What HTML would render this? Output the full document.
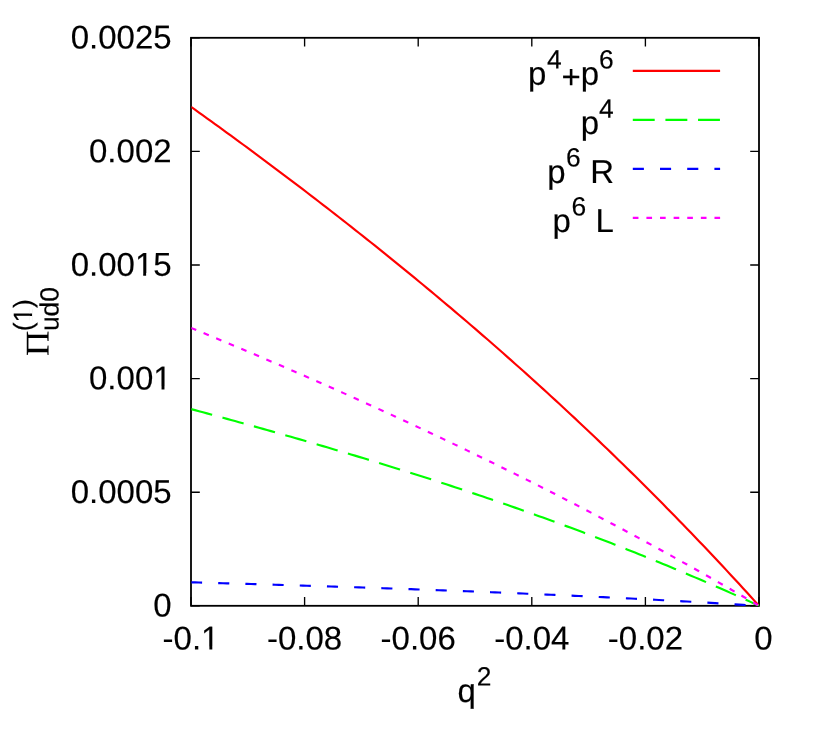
<!DOCTYPE html>
<html><head><meta charset="utf-8"><title>plot</title>
<style>html,body{margin:0;padding:0;background:#fff;}svg{display:block;}#wrap{width:822px;height:743px;will-change:transform;}text{font-family:"Liberation Sans",sans-serif;fill:#000;text-rendering:geometricPrecision;stroke:#000;stroke-width:0.15px;}.sym{font-family:"Liberation Serif",serif;}</style></head><body><div id="wrap">
<svg width="822" height="743" viewBox="0 0 822 743">
<g stroke="#000" stroke-width="1.35" fill="none" stroke-linecap="butt">
<path d="M191.0,605.80 h8.8 M759.0,605.80 h-8.8"/>
<path d="M191.0,492.20 h8.8 M759.0,492.20 h-8.8"/>
<path d="M191.0,378.60 h8.8 M759.0,378.60 h-8.8"/>
<path d="M191.0,265.00 h8.8 M759.0,265.00 h-8.8"/>
<path d="M191.0,151.40 h8.8 M759.0,151.40 h-8.8"/>
<path d="M191.0,37.80 h8.8 M759.0,37.80 h-8.8"/>
<path d="M191.00,605.8 v-8.8 M191.00,37.8 v8.8"/>
<path d="M304.60,605.8 v-8.8 M304.60,37.8 v8.8"/>
<path d="M418.20,605.8 v-8.8 M418.20,37.8 v8.8"/>
<path d="M531.80,605.8 v-8.8 M531.80,37.8 v8.8"/>
<path d="M645.40,605.8 v-8.8 M645.40,37.8 v8.8"/>
<path d="M759.00,605.8 v-8.8 M759.00,37.8 v8.8"/>
</g>
<rect x="191.0" y="37.8" width="568.0" height="568.0" fill="none" stroke="#000" stroke-width="1.8"/>
<g transform="matrix(1 0.0005 0 1 171.60 616.60)"><text font-size="33.0" text-anchor="end">0</text></g>
<g transform="matrix(1 0.0005 0 1 171.60 503.00)"><text font-size="33.0" text-anchor="end">0.0005</text></g>
<g transform="matrix(1 0.0005 0 1 171.60 389.40)"><text font-size="33.0" text-anchor="end">0.001</text><rect x="-16.74" y="-2.72" width="6.69" height="3.32" fill="#fff"/><rect x="-7.14" y="-2.72" width="6.51" height="3.32" fill="#fff"/></g>
<g transform="matrix(1 0.0005 0 1 171.60 275.80)"><text font-size="33.0" text-anchor="end">0.0015</text><rect x="-35.09" y="-2.72" width="6.69" height="3.32" fill="#fff"/><rect x="-25.49" y="-2.72" width="6.51" height="3.32" fill="#fff"/></g>
<g transform="matrix(1 0.0005 0 1 171.60 162.20)"><text font-size="33.0" text-anchor="end">0.002</text></g>
<g transform="matrix(1 0.0005 0 1 171.60 48.60)"><text font-size="33.0" text-anchor="end">0.0025</text></g>
<g transform="matrix(1 0.0005 0 1 191.00 649.40)"><text font-size="33.0" text-anchor="middle">-0.1</text><rect x="11.69" y="-2.72" width="6.69" height="3.32" fill="#fff"/><rect x="21.29" y="-2.72" width="6.51" height="3.32" fill="#fff"/></g>
<g transform="matrix(1 0.0005 0 1 304.60 649.40)"><text font-size="33.0" text-anchor="middle">-0.08</text></g>
<g transform="matrix(1 0.0005 0 1 418.20 649.40)"><text font-size="33.0" text-anchor="middle">-0.06</text></g>
<g transform="matrix(1 0.0005 0 1 531.80 649.40)"><text font-size="33.0" text-anchor="middle">-0.04</text></g>
<g transform="matrix(1 0.0005 0 1 645.40 649.40)"><text font-size="33.0" text-anchor="middle">-0.02</text></g>
<g transform="matrix(1 0.0005 0 1 763.40 649.40)"><text font-size="33.0" text-anchor="middle">0</text></g>
<g transform="matrix(1 0.0005 0 1 457.60 702.00)"><text font-size="33.0">q</text></g>
<g transform="matrix(1 0.0005 0 1 476.80 685.50)"><text font-size="26.4">2</text></g>
<g transform="matrix(0.0005 -1 1 0.0005 48.5 356.0)">
<text class="sym" x="0" y="0" font-size="33.0" textLength="25.2" lengthAdjust="spacingAndGlyphs">&#928;</text>
<text x="24.95" y="10" font-size="26.4">ud0</text>
<text x="24.65" y="-16.6" font-size="26.4">(1)</text>
<rect x="34.73" y="-18.82" width="5.35" height="2.82" fill="#fff"/>
<rect x="42.41" y="-18.82" width="5.21" height="2.82" fill="#fff"/>
</g>
<g transform="matrix(1 0.0005 0 1 528.00 84.70)"><text font-size="33.0">p</text></g>
<g transform="matrix(1 0.0005 0 1 546.90 68.40)"><text font-size="26.4">4</text></g>
<g transform="matrix(1 0.0005 0 1 561.40 88.00)"><text font-size="33.0">+</text></g>
<g transform="matrix(1 0.0005 0 1 580.70 84.70)"><text font-size="33.0">p</text></g>
<g transform="matrix(1 0.0005 0 1 598.90 68.40)"><text font-size="26.4">6</text></g>
<g transform="matrix(1 0.0005 0 1 580.70 134.00)"><text font-size="33.0">p</text></g>
<g transform="matrix(1 0.0005 0 1 598.90 117.70)"><text font-size="26.4">4</text></g>
<g transform="matrix(1 0.0005 0 1 547.30 182.90)"><text font-size="33.0">p</text></g>
<g transform="matrix(1 0.0005 0 1 566.00 166.60)"><text font-size="26.4">6</text></g>
<g transform="matrix(1 0.0005 0 1 590.30 182.90)"><text font-size="33.0">R</text></g>
<g transform="matrix(1 0.0005 0 1 552.60 231.90)"><text font-size="33.0">p</text></g>
<g transform="matrix(1 0.0005 0 1 571.60 215.60)"><text font-size="26.4">6</text></g>
<g transform="matrix(1 0.0005 0 1 595.40 231.90)"><text font-size="33.0">L</text></g>
<path d="M632.8,70.78 H720.1" stroke="#ff0000" stroke-width="2.3" fill="none"/>
<path d="M632.8,119.8 H720.1" stroke="#00ff00" stroke-width="2.3" fill="none" stroke-dasharray="21.9 10.72"/>
<path d="M632.8,168.85 H720.1" stroke="#0000ff" stroke-width="2.3" fill="none" stroke-dasharray="11.1 16.1"/>
<path d="M632.8,217.9 H720.1" stroke="#ff00ff" stroke-width="2.3" fill="none" stroke-dasharray="5.65 7.962"/>
<clipPath id="pc"><rect x="191.4" y="37.8" width="567.9" height="568.3"/></clipPath>
<g clip-path="url(#pc)">
<path d="M191.00,106.80 L195.00,109.66 L199.00,112.53 L203.00,115.40 L207.00,118.28 L211.00,121.17 L215.00,124.06 L219.00,126.96 L223.00,129.86 L227.00,132.78 L231.00,135.70 L235.00,138.62 L239.00,141.56 L243.00,144.50 L247.00,147.44 L251.00,150.40 L255.00,153.36 L259.00,156.33 L263.00,159.30 L267.00,162.28 L271.00,165.27 L275.00,168.27 L279.00,171.27 L283.00,174.29 L287.00,177.30 L291.00,180.33 L295.00,183.36 L299.00,186.41 L303.00,189.45 L307.00,192.51 L311.00,195.58 L315.00,198.65 L319.00,201.73 L323.00,204.82 L327.00,207.91 L331.00,211.01 L335.00,214.13 L339.00,217.25 L343.00,220.37 L347.00,223.51 L351.00,226.66 L355.00,229.81 L359.00,232.97 L363.00,236.14 L367.00,239.32 L371.00,242.51 L375.00,245.70 L379.00,248.91 L383.00,252.12 L387.00,255.34 L391.00,258.58 L395.00,261.82 L399.00,265.07 L403.00,268.33 L407.00,271.60 L411.00,274.87 L415.00,278.16 L419.00,281.46 L423.00,284.77 L427.00,288.08 L431.00,291.41 L435.00,294.74 L439.00,298.09 L443.00,301.45 L447.00,304.81 L451.00,308.19 L455.00,311.58 L459.00,314.98 L463.00,318.38 L467.00,321.80 L471.00,325.23 L475.00,328.67 L479.00,332.12 L483.00,335.58 L487.00,339.06 L491.00,342.54 L495.00,346.03 L499.00,349.54 L503.00,353.06 L507.00,356.59 L511.00,360.13 L515.00,363.68 L519.00,367.24 L523.00,370.82 L527.00,374.41 L531.00,378.01 L535.00,381.62 L539.00,385.24 L543.00,388.88 L547.00,392.52 L551.00,396.19 L555.00,399.86 L559.00,403.54 L563.00,407.24 L567.00,410.95 L571.00,414.68 L575.00,418.41 L579.00,422.16 L583.00,425.93 L587.00,429.70 L591.00,433.49 L595.00,437.30 L599.00,441.11 L603.00,444.94 L607.00,448.79 L611.00,452.64 L615.00,456.51 L619.00,460.40 L623.00,464.30 L627.00,468.21 L631.00,472.14 L635.00,476.08 L639.00,480.04 L643.00,484.01 L647.00,487.99 L651.00,491.99 L655.00,496.01 L659.00,500.04 L663.00,504.08 L667.00,508.14 L671.00,512.21 L675.00,516.30 L679.00,520.41 L683.00,524.53 L687.00,528.66 L691.00,532.81 L695.00,536.98 L699.00,541.16 L703.00,545.36 L707.00,549.57 L711.00,553.80 L715.00,558.04 L719.00,562.30 L723.00,566.58 L727.00,570.87 L731.00,575.18 L735.00,579.51 L739.00,583.85 L743.00,588.21 L747.00,592.58 L751.00,596.97 L755.00,601.38 L759.00,605.81" stroke="#ff0000" stroke-width="2.15" fill="none" stroke-linejoin="round"/>
<path d="M191.00,409.07 L195.00,410.15 L199.00,411.23 L203.00,412.32 L207.00,413.40 L211.00,414.49 L215.00,415.58 L219.00,416.68 L223.00,417.77 L227.00,418.87 L231.00,419.97 L235.00,421.08 L239.00,422.18 L243.00,423.29 L247.00,424.41 L251.00,425.52 L255.00,426.64 L259.00,427.76 L263.00,428.88 L267.00,430.01 L271.00,431.14 L275.00,432.27 L279.00,433.41 L283.00,434.55 L287.00,435.69 L291.00,436.84 L295.00,437.99 L299.00,439.14 L303.00,440.29 L307.00,441.45 L311.00,442.62 L315.00,443.78 L319.00,444.95 L323.00,446.13 L327.00,447.30 L331.00,448.48 L335.00,449.67 L339.00,450.86 L343.00,452.05 L347.00,453.25 L351.00,454.45 L355.00,455.65 L359.00,456.86 L363.00,458.07 L367.00,459.29 L371.00,460.51 L375.00,461.74 L379.00,462.96 L383.00,464.20 L387.00,465.44 L391.00,466.68 L395.00,467.93 L399.00,469.18 L403.00,470.43 L407.00,471.69 L411.00,472.96 L415.00,474.23 L419.00,475.50 L423.00,476.78 L427.00,478.07 L431.00,479.35 L435.00,480.65 L439.00,481.95 L443.00,483.25 L447.00,484.56 L451.00,485.87 L455.00,487.19 L459.00,488.52 L463.00,489.84 L467.00,491.18 L471.00,492.52 L475.00,493.86 L479.00,495.21 L483.00,496.57 L487.00,497.93 L491.00,499.30 L495.00,500.67 L499.00,502.05 L503.00,503.43 L507.00,504.82 L511.00,506.22 L515.00,507.62 L519.00,509.03 L523.00,510.44 L527.00,511.86 L531.00,513.28 L535.00,514.71 L539.00,516.15 L543.00,517.59 L547.00,519.04 L551.00,520.49 L555.00,521.96 L559.00,523.42 L563.00,524.90 L567.00,526.38 L571.00,527.86 L575.00,529.36 L579.00,530.86 L583.00,532.36 L587.00,533.88 L591.00,535.40 L595.00,536.92 L599.00,538.45 L603.00,539.99 L607.00,541.54 L611.00,543.09 L615.00,544.65 L619.00,546.22 L623.00,547.80 L627.00,549.38 L631.00,550.97 L635.00,552.56 L639.00,554.16 L643.00,555.77 L647.00,557.39 L651.00,559.01 L655.00,560.65 L659.00,562.29 L663.00,563.93 L667.00,565.59 L671.00,567.25 L675.00,568.92 L679.00,570.59 L683.00,572.28 L687.00,573.97 L691.00,575.67 L695.00,577.38 L699.00,579.09 L703.00,580.82 L707.00,582.55 L711.00,584.29 L715.00,586.04 L719.00,587.79 L723.00,589.55 L727.00,591.33 L731.00,593.11 L735.00,594.89 L739.00,596.69 L743.00,598.50 L747.00,600.31 L751.00,602.13 L755.00,603.96 L759.00,605.80" stroke="#00ff00" stroke-width="2.15" fill="none" stroke-linejoin="round" stroke-dasharray="21.9 10.72"/>
<path d="M191.00,582.30 L195.00,582.41 L199.00,582.52 L203.00,582.64 L207.00,582.75 L211.00,582.86 L215.00,582.98 L219.00,583.09 L223.00,583.21 L227.00,583.32 L231.00,583.44 L235.00,583.55 L239.00,583.67 L243.00,583.79 L247.00,583.91 L251.00,584.02 L255.00,584.14 L259.00,584.26 L263.00,584.38 L267.00,584.50 L271.00,584.62 L275.00,584.74 L279.00,584.86 L283.00,584.98 L287.00,585.10 L291.00,585.22 L295.00,585.35 L299.00,585.47 L303.00,585.59 L307.00,585.72 L311.00,585.84 L315.00,585.97 L319.00,586.10 L323.00,586.22 L327.00,586.35 L331.00,586.48 L335.00,586.61 L339.00,586.74 L343.00,586.87 L347.00,587.00 L351.00,587.13 L355.00,587.26 L359.00,587.39 L363.00,587.52 L367.00,587.66 L371.00,587.79 L375.00,587.93 L379.00,588.06 L383.00,588.20 L387.00,588.34 L391.00,588.48 L395.00,588.62 L399.00,588.76 L403.00,588.90 L407.00,589.04 L411.00,589.18 L415.00,589.32 L419.00,589.47 L423.00,589.61 L427.00,589.76 L431.00,589.90 L435.00,590.05 L439.00,590.20 L443.00,590.35 L447.00,590.50 L451.00,590.65 L455.00,590.80 L459.00,590.96 L463.00,591.11 L467.00,591.26 L471.00,591.42 L475.00,591.58 L479.00,591.73 L483.00,591.89 L487.00,592.05 L491.00,592.21 L495.00,592.37 L499.00,592.54 L503.00,592.70 L507.00,592.86 L511.00,593.03 L515.00,593.20 L519.00,593.37 L523.00,593.53 L527.00,593.70 L531.00,593.88 L535.00,594.05 L539.00,594.22 L543.00,594.40 L547.00,594.57 L551.00,594.75 L555.00,594.93 L559.00,595.11 L563.00,595.29 L567.00,595.47 L571.00,595.65 L575.00,595.84 L579.00,596.02 L583.00,596.21 L587.00,596.40 L591.00,596.59 L595.00,596.78 L599.00,596.97 L603.00,597.16 L607.00,597.35 L611.00,597.55 L615.00,597.75 L619.00,597.95 L623.00,598.14 L627.00,598.35 L631.00,598.55 L635.00,598.75 L639.00,598.96 L643.00,599.16 L647.00,599.37 L651.00,599.58 L655.00,599.79 L659.00,600.00 L663.00,600.22 L667.00,600.43 L671.00,600.65 L675.00,600.87 L679.00,601.09 L683.00,601.31 L687.00,601.53 L691.00,601.75 L695.00,601.98 L699.00,602.21 L703.00,602.43 L707.00,602.66 L711.00,602.90 L715.00,603.13 L719.00,603.36 L723.00,603.60 L727.00,603.84 L731.00,604.08 L735.00,604.32 L739.00,604.56 L743.00,604.81 L747.00,605.05 L751.00,605.30 L755.00,605.55 L759.00,605.80" stroke="#0000ff" stroke-width="2.15" fill="none" stroke-linejoin="round" stroke-dasharray="11.1 16.1"/>
<path d="M191.00,327.91 L195.00,329.55 L199.00,331.19 L203.00,332.84 L207.00,334.49 L211.00,336.15 L215.00,337.81 L219.00,339.47 L223.00,341.14 L227.00,342.80 L231.00,344.48 L235.00,346.15 L239.00,347.84 L243.00,349.52 L247.00,351.21 L251.00,352.90 L255.00,354.59 L259.00,356.29 L263.00,358.00 L267.00,359.70 L271.00,361.41 L275.00,363.13 L279.00,364.85 L283.00,366.57 L287.00,368.29 L291.00,370.02 L295.00,371.76 L299.00,373.50 L303.00,375.24 L307.00,376.98 L311.00,378.73 L315.00,380.49 L319.00,382.25 L323.00,384.01 L327.00,385.77 L331.00,387.54 L335.00,389.32 L339.00,391.10 L343.00,392.88 L347.00,394.67 L351.00,396.46 L355.00,398.26 L359.00,400.06 L363.00,401.86 L367.00,403.67 L371.00,405.48 L375.00,407.30 L379.00,409.12 L383.00,410.95 L387.00,412.78 L391.00,414.62 L395.00,416.46 L399.00,418.30 L403.00,420.15 L407.00,422.01 L411.00,423.87 L415.00,425.73 L419.00,427.60 L423.00,429.47 L427.00,431.35 L431.00,433.23 L435.00,435.12 L439.00,437.01 L443.00,438.90 L447.00,440.80 L451.00,442.71 L455.00,444.62 L459.00,446.54 L463.00,448.46 L467.00,450.38 L471.00,452.31 L475.00,454.25 L479.00,456.19 L483.00,458.14 L487.00,460.09 L491.00,462.04 L495.00,464.00 L499.00,465.97 L503.00,467.94 L507.00,469.92 L511.00,471.90 L515.00,473.88 L519.00,475.88 L523.00,477.87 L527.00,479.88 L531.00,481.88 L535.00,483.90 L539.00,485.91 L543.00,487.94 L547.00,489.97 L551.00,492.00 L555.00,494.04 L559.00,496.09 L563.00,498.14 L567.00,500.19 L571.00,502.25 L575.00,504.32 L579.00,506.40 L583.00,508.47 L587.00,510.56 L591.00,512.65 L595.00,514.74 L599.00,516.84 L603.00,518.95 L607.00,521.06 L611.00,523.18 L615.00,525.31 L619.00,527.44 L623.00,529.57 L627.00,531.71 L631.00,533.86 L635.00,536.01 L639.00,538.17 L643.00,540.34 L647.00,542.51 L651.00,544.68 L655.00,546.87 L659.00,549.06 L663.00,551.25 L667.00,553.45 L671.00,555.66 L675.00,557.87 L679.00,560.09 L683.00,562.32 L687.00,564.55 L691.00,566.79 L695.00,569.03 L699.00,571.28 L703.00,573.54 L707.00,575.80 L711.00,578.07 L715.00,580.35 L719.00,582.63 L723.00,584.92 L727.00,587.21 L731.00,589.51 L735.00,591.82 L739.00,594.13 L743.00,596.45 L747.00,598.78 L751.00,601.11 L755.00,603.45 L759.00,605.80" stroke="#ff00ff" stroke-width="2.15" fill="none" stroke-linejoin="round" stroke-dasharray="5.65 7.962"/>
</g>
</svg></div></body></html>
